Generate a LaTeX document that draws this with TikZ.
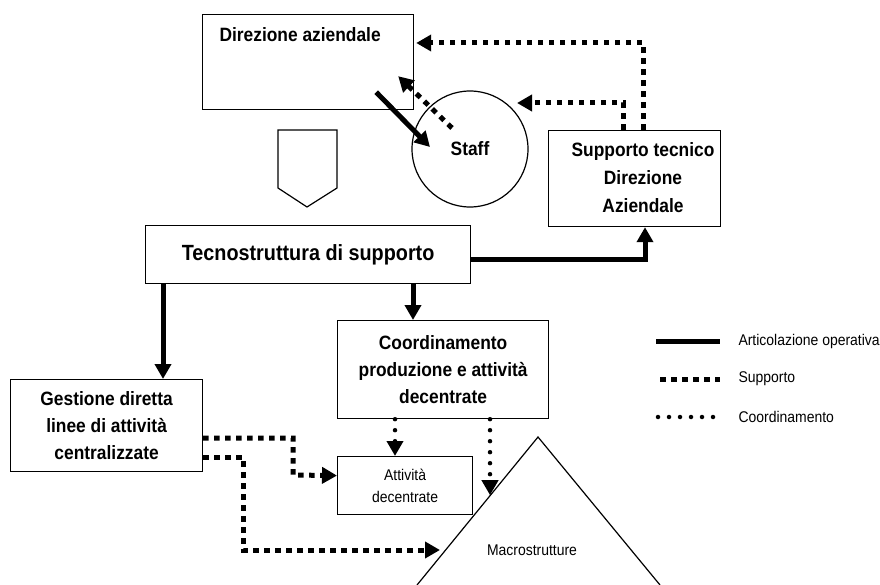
\documentclass[tikz,border=0pt]{standalone}
\usepackage{fontspec}
\setmainfont[FakeStretch=0.9]{Liberation Sans}
\usetikzlibrary{arrows.meta, calc}

\begin{document}
\begin{tikzpicture}[x=1pt, y=-1pt,
    box/.style={draw, line width=1.2pt, inner sep=0pt},
    txtB/.style={font=\fontsize{19.3}{27}\selectfont\bfseries, align=center},
    txtN/.style={font=\fontsize{15.5}{22}\selectfont, align=center},
    opline/.style={line width=5pt},
    suppline/.style={line width=5pt, dash pattern=on 5.5pt off 5.5pt},
    coordline/.style={line width=4.5pt, line cap=round, dash pattern=on 0pt off 11pt},
    arrhead/.style={-{Triangle[length=15pt, width=16pt]}},
  ]
  \useasboundingbox (0,0) rectangle (880,585);

  % boxes
  \node[box, anchor=north west, minimum width=211pt, minimum height=95pt] (dir) at (202,14) {};
  \node[txtB, anchor=west] (dirlbl) at (216,35) {Direzione aziendale};
  \node[draw, circle, line width=1.2pt, minimum size=116pt, txtB] (staff) at (470,149) {Staff};
  \node[box, anchor=north west, minimum width=172pt, minimum height=96pt] (sup) at (548,130) {};
  \node[txtB, font=\fontsize{19.3}{28}\selectfont\bfseries] (suplbl) at (643,178) {Supporto tecnico\\Direzione\\Aziendale};
  \node[box, anchor=north west, minimum width=325pt, minimum height=58pt,
        font=\fontsize{22}{24}\selectfont\bfseries] (tec) at (145,225) {Tecnostruttura di supporto};
  \node[box, txtB, anchor=north west, minimum width=192pt, minimum height=92pt] (gest) at (10,379)
        {Gestione diretta\\linee di attività\\centralizzate};
  \node[box, txtB, anchor=north west, minimum width=211pt, minimum height=98pt] (coor) at (337,320)
        {Coordinamento\\produzione e attività\\decentrate};
  \node[box, txtN, anchor=north west, minimum width=135pt, minimum height=58pt] (act) at (337,456)
        {Attività\\decentrate};

  % pentagon and triangle
  \draw[line width=1.2pt] (278,130) -- (337,130) -- (337,188) -- (307,207) -- (278,188) -- cycle;
  \coordinate (apex) at (538,437);
  \draw[line width=1.2pt] (417,585) -- (apex) -- (660,585);
  \node[txtN] (macro) at (532,550) {Macrostrutture};

  % connectors
  \draw[opline, arrhead] ($(dir.south east)+(-38,-18)$) -- ($(staff.center)+(-40,-2)$);
  \draw[suppline, arrhead] ($(staff.center)+(-18,-21)$) -- ($(dir.south east)+(-16,-34)$);
  \draw[suppline, arrhead] ($(sup.north west)+(75,0)$) |- ($(staff.center)+(47,-46)$);
  \draw[suppline, arrhead] ($(sup.north west)+(95,0)$) |- ($(dir.north east)+(2,29)$);
  \draw[opline, arrhead] ($(tec.east)+(0,5)$) -| ($(sup.south west)+(97,0)$);
  \coordinate (tecL) at ($(tec.south west)+(18,0)$);
  \coordinate (tecR) at ($(tec.south west)+(268,0)$);
  \draw[opline, arrhead] (tecL) -- (tecL |- gest.north);
  \draw[opline, arrhead] (tecR) -- (tecR |- coor.north);
  \coordinate (coorL) at ($(coor.south west)+(58,0)$);
  \coordinate (coorR) at ($(coor.south west)+(153,0)$);
  \draw[coordline, arrhead] (coorL) -- (coorL |- act.north);
  \draw[coordline, arrhead] (coorR) -- ($(coorR)+(0,76)$);
  \draw[suppline, arrhead] ($(gest.north east)+(0,59)$) -| (293,475) -- ($(act.west)+(0,-10)$);
  \draw[suppline, arrhead] ($(gest.north east)+(0,78)$) -| (243,550) -- ($(apex)+(-98,113)$);

  % legend
  \coordinate (lgA) at (656,341);
  \coordinate (lgB) at (660,379);
  \coordinate (lgC) at (658,417);
  \node[txtN, anchor=west] (lgAt) at (735,341) {Articolazione operativa};
  \node[txtN, anchor=west] (lgBt) at (735,379) {Supporto};
  \node[txtN, anchor=west] (lgCt) at (735,417) {Coordinamento};
  \draw[opline] (lgA) -- ($(lgAt.west)+(-15,0)$);
  \draw[suppline] (lgB) -- ($(lgBt.west)+(-15,0)$);
  \draw[coordline] (lgC) -- ($(lgCt.west)+(-15,0)$);
\end{tikzpicture}
\end{document}
